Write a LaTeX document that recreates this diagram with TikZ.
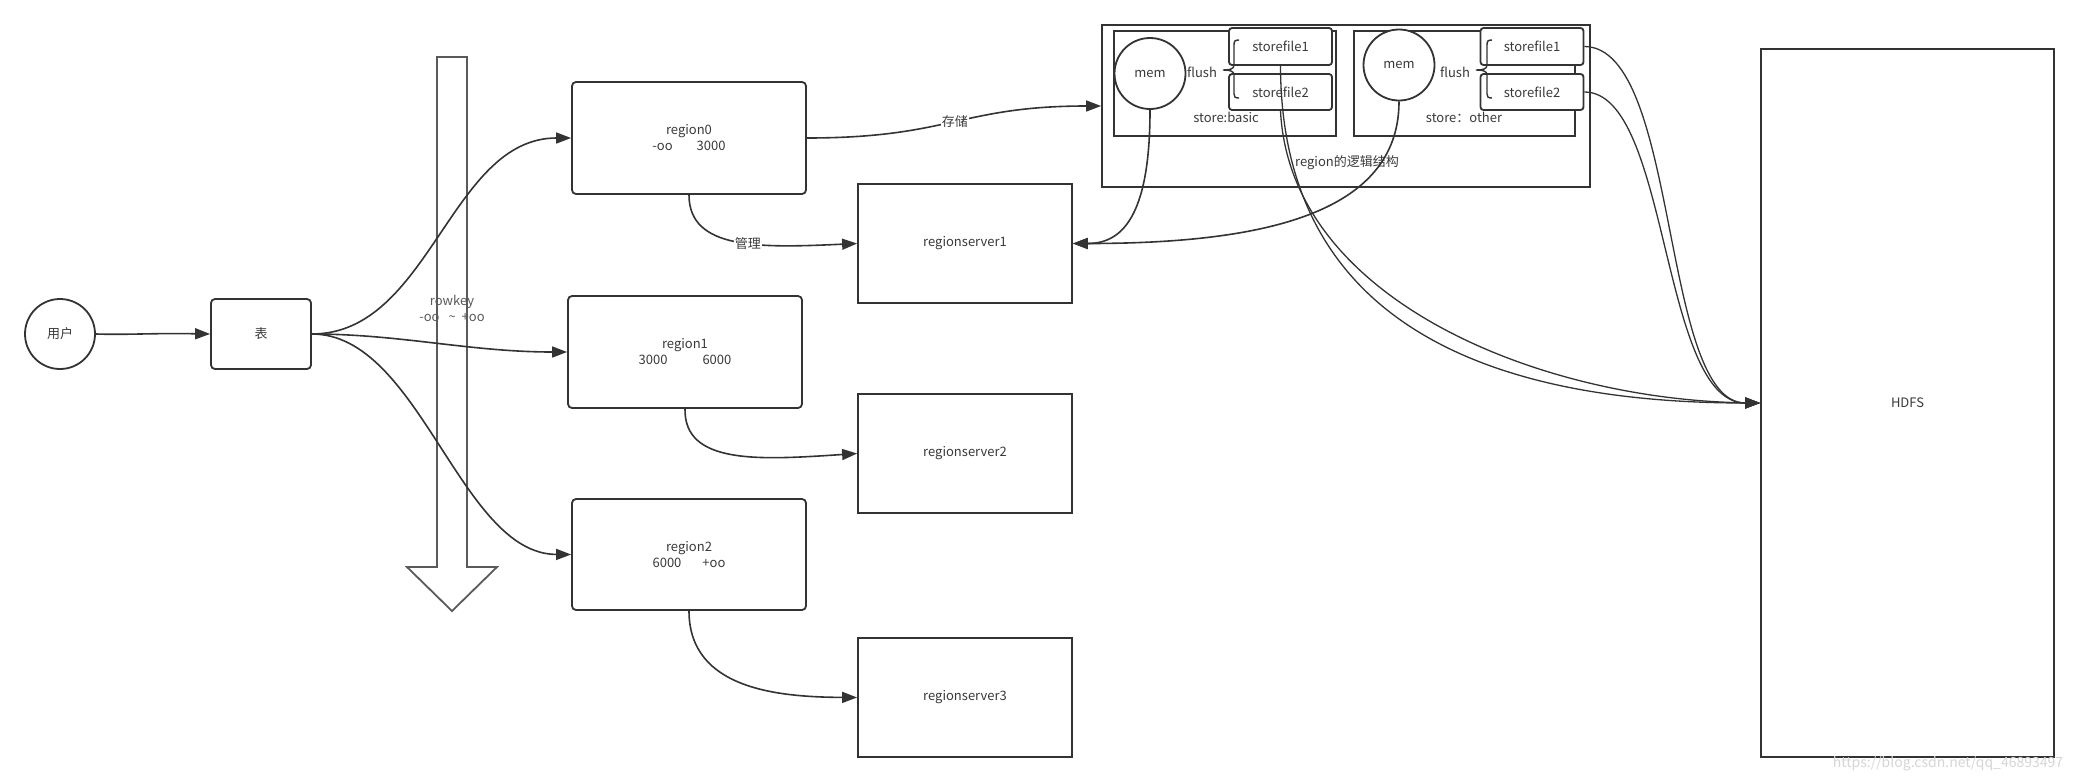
\documentclass[tikz,border=0pt]{standalone}
\usepackage{fontspec}
\setmainfont{Noto Sans CJK SC}
\usetikzlibrary{arrows.meta}
\definecolor{ink}{HTML}{333333}
\definecolor{txt}{HTML}{3A3A3A}
\definecolor{arrowgray}{HTML}{5A5A5A}
\definecolor{wm}{HTML}{D6D6D6}
\begin{document}
\begin{tikzpicture}[x=1pt,y=-1pt,
  every node/.style={font=\fontsize{13}{16}\selectfont, text=txt},
  box/.style={draw=ink, line width=1.8pt, fill=white, inner sep=0pt},
  rbox/.style={box, rounded corners=4pt},
  conn/.style={draw=ink, line width=1.6pt, -{Triangle[length=15pt,width=11pt]}},
  thin conn/.style={conn, line width=1.3pt},
  bracel/.style={draw=ink, line width=1.4pt},
  lbl/.style={fill=white, inner sep=1pt}
]
\useasboundingbox (0,0) rectangle (2079,782);
\fill[white] (0,0) rectangle (2079,782);

% big down arrow (rowkey order)
\draw[draw=arrowgray, line width=1.8pt, fill=white]
  (437,57) -- (467,57) -- (467,567) -- (497,567) -- (452,611) -- (407,567) -- (437,567) -- cycle;
\node[align=center, text=arrowgray] (rowkey) at (452,308) {rowkey\\-oo\hspace{9pt}\textasciitilde\hspace{6pt}+oo};

% left part
\node[box, circle, minimum size=70pt] (user) at (60,334) {用户};
\node[rbox, minimum width=100pt, minimum height=70pt] (tbl) at (261,334) {表};

\node[rbox, minimum width=234pt, minimum height=112pt, align=center] (r0) at (689,138) {region0\\-oo\hspace{24pt}3000};
\node[rbox, minimum width=234pt, minimum height=112pt, align=center] (r1) at (685,352) {region1\\3000\hspace{35pt}6000};
\node[rbox, minimum width=234pt, minimum height=111pt, align=center] (r2) at (689,554.5) {region2\\6000\hspace{21pt}+oo};

\node[box, minimum width=214pt, minimum height=119pt] (rs1) at (965,243.5) {regionserver1};
\node[box, minimum width=214pt, minimum height=119pt] (rs2) at (965,453.5) {regionserver2};
\node[box, minimum width=214pt, minimum height=119pt] (rs3) at (965,697.5) {regionserver3};

% logical structure of a region
\node[box, minimum width=488pt, minimum height=162pt] (logic) at (1346,106) {};
\node (logiclbl) at (1347,163) {region的逻辑结构};
\node[box, minimum width=222pt, minimum height=105pt] (sb) at (1225,83.5) {};
\node[box, minimum width=221pt, minimum height=105pt] (so) at (1464.5,83.5) {};
\node (sblbl) at (1226,117) {store:basic};
\node (solbl) at (1464,117) {store：other};

\node[box, circle, minimum size=71pt] (mem1) at (1150,73.5) {mem};
\node[box, circle, minimum size=71pt] (mem2) at (1399,65) {mem};

\node[rbox, rounded corners=3pt, minimum width=103pt, minimum height=37pt] (sb1) at (1280.5,46.5) {storefile1};
\node[rbox, rounded corners=3pt, minimum width=103pt, minimum height=36pt] (sb2) at (1280.5,92) {storefile2};
\node[rbox, rounded corners=3pt, minimum width=103pt, minimum height=37pt] (so1) at (1532,46.5) {storefile1};
\node[rbox, rounded corners=3pt, minimum width=103pt, minimum height=36pt] (so2) at (1532,92) {storefile2};

\node (flushb) at (1202,72) {flush};
\node (flusho) at (1455,72) {flush};
\foreach \dx in {0,253} {
  \draw[bracel, shift={(\dx,0)}]
    (1239,40) .. controls (1235,40) and (1234,41) .. (1234,45) -- (1234,65)
    .. controls (1234,69) and (1230,70) .. (1223,70)
    .. controls (1230,70) and (1234,71) .. (1234,75) -- (1234,94)
    .. controls (1234,97) and (1235,98) .. (1239,98);
}

\node[box, minimum width=293pt, minimum height=708pt] (hdfs) at (1907.5,403) {HDFS};

% connectors
\draw[conn] (user.east) .. controls (130,335) and (150,333) .. (tbl.west);
\draw[conn] (tbl.east) .. controls (430,334) and (450,138) .. (r0.west);
\draw[conn] (tbl.east) .. controls (400,334) and (470,352) .. (r1.west);
\draw[conn] (tbl.east) .. controls (420,334) and (460,554) .. (r2.west);

\draw[conn] (r0.south) .. controls (689,250) and (760,248) .. node[lbl, pos=0.56] {管理} (rs1.west);
\draw[conn] (r1.south) .. controls (684,465) and (760,460) .. (rs2.west);
\draw[conn] (r2.south) .. controls (689,690) and (780,697) .. (rs3.west);

\draw[conn] (r0.east) .. controls (950,138) and (960,106) .. node[lbl, pos=0.5] {存储} (logic.west);

\draw[conn] (mem1.south) .. controls (1150,220) and (1120,243.5) .. (rs1.east);
\draw[conn] (mem2.south) .. controls (1399,215) and (1260,243.5) .. (rs1.east);

\draw[thin conn] (sb1.south) .. controls (1281,330) and (1500,403) .. (hdfs.west);
\draw[thin conn] (sb2.south) .. controls (1290,300) and (1540,400) .. (hdfs.west);
\draw[thin conn] (so1.east) .. controls (1680,47) and (1660,403) .. (hdfs.west);
\draw[thin conn] (so2.east) .. controls (1670,92) and (1660,403) .. (hdfs.west);

% watermark
\node[text=wm, font=\fontsize{14}{16}\selectfont] (wmark) at (1948,764) {https://blog.csdn.net/qq\_46893497};
\end{tikzpicture}
\end{document}
